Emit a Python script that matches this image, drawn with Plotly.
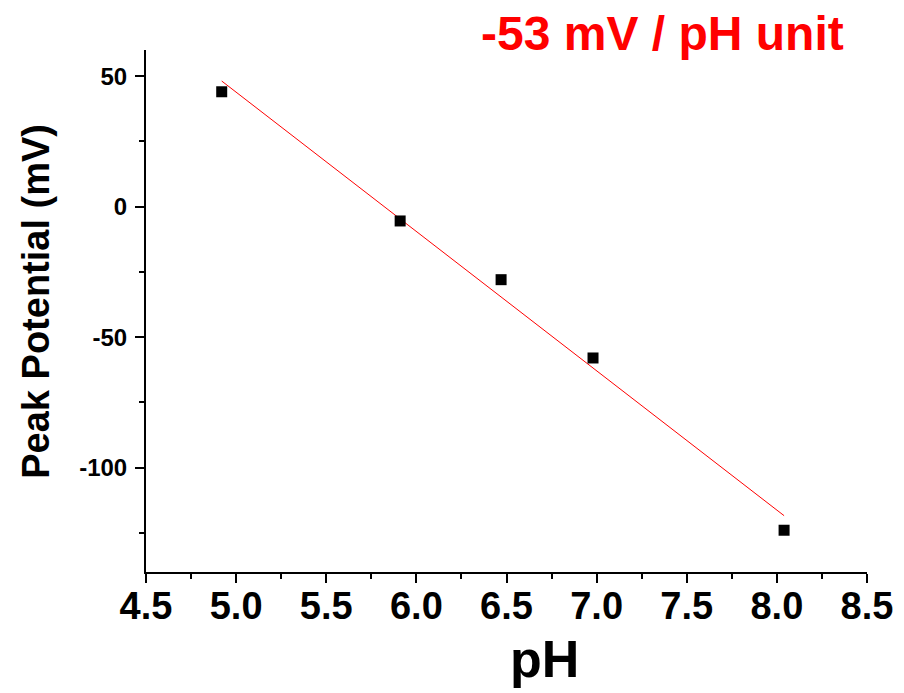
import numpy as np
import plotly.graph_objects as go

ph = [4.92, 5.91, 6.47, 6.98, 8.04]
peak_mv = [44.0, -5.5, -28.0, -58.0, -124.0]
x_ticks = [4.5, 5.0, 5.5, 6.0, 6.5, 7.0, 7.5, 8.0, 8.5]
y_ticks = [-100, -50, 0, 50]
slope_label = "-53 mV / pH unit"
x_title = "pH"
y_title = "Peak Potential (mV)"

coef = np.polyfit(ph, peak_mv, 1)
fit_x = np.array([min(ph), max(ph)])
fit_y = np.polyval(coef, fit_x)

FONT = "Arial, 'Liberation Sans', sans-serif"

fig = go.Figure()
fig.add_trace(go.Scatter(x=fit_x, y=fit_y, mode="lines",
                         line=dict(color="#ff0000", width=1), showlegend=False))
fig.add_trace(go.Scatter(x=ph, y=peak_mv, mode="markers",
                         marker=dict(symbol="square", size=11, color="black"),
                         showlegend=False))

fig.update_layout(
    width=904, height=693,
    paper_bgcolor="white", plot_bgcolor="white",
    margin=dict(l=138, r=45, t=42, b=129),
    font=dict(family=FONT, color="black"),
    xaxis=dict(range=[4.5, 8.5], tickvals=x_ticks, ticktext=[f"{v:.1f}" for v in x_ticks],
               automargin=False,
               showline=True, linecolor="black", linewidth=2, mirror=False,
               ticks="outside", ticklen=9, tickwidth=2, tickcolor="black",
               minor=dict(ticks="outside", ticklen=5, tickwidth=2, tickcolor="black", dtick=0.25),
               showgrid=False, zeroline=False, ticklabelstandoff=-10,
               tickfont=dict(size=38, family=FONT, weight="bold")),
    yaxis=dict(range=[-140, 60], tickvals=y_ticks, ticktext=[str(v) for v in y_ticks],
               automargin=False,
               showline=True, linecolor="black", linewidth=2, mirror=False,
               ticks="outside", ticklen=9, tickwidth=2, tickcolor="black",
               minor=dict(ticks="outside", ticklen=5, tickwidth=2, tickcolor="black", dtick=25),
               showgrid=False, zeroline=False, ticklabelstandoff=3,
               tickfont=dict(size=24, family=FONT, weight="bold")),
    annotations=[
        dict(text=slope_label, xref="paper", yref="paper", x=0.7157, y=1.032,
             xanchor="center", yanchor="middle", showarrow=False,
             font=dict(size=48, color="#ff0000", family=FONT, weight="bold")),
        dict(text=x_title, xref="paper", yref="paper", x=0.553, y=-0.166,
             xanchor="center", yanchor="middle", showarrow=False,
             font=dict(size=52, family=FONT, weight="bold")),
        dict(text=y_title, xref="paper", yref="paper", x=-0.153, y=0.519, textangle=-90,
             xanchor="center", yanchor="middle", showarrow=False,
             font=dict(size=38, family=FONT, weight="bold")),
    ],
)

fig.write_html("out.html")
